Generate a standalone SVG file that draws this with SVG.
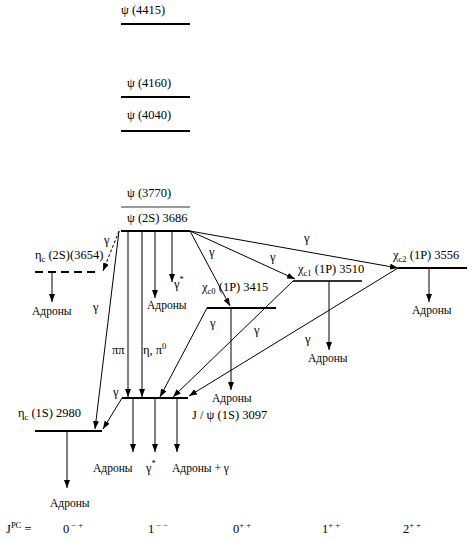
<svg xmlns="http://www.w3.org/2000/svg" width="473" height="541" viewBox="0 0 473 541" font-family="'Liberation Serif', 'Times New Roman', 'DejaVu Serif', serif">
<style>
text{font-family:'Liberation Serif','Times New Roman','DejaVu Serif',serif;font-size:12.5px;fill:#000}
.s{font-size:11.5px}
.sub{font-size:8.5px}
.lv{stroke:#000;stroke-width:2;fill:none}
.tr{stroke:#000;stroke-width:1;fill:none;marker-end:url(#ah)}
</style>
<defs>
<marker id="ah" markerUnits="userSpaceOnUse" markerWidth="8" markerHeight="6" refX="8" refY="3" orient="auto">
<path d="M0,0 L8,3 L0,6 z" fill="#000"/>
</marker>
</defs>
<rect width="473" height="541" fill="#fff"/>
<g id="psi4415"><line class="lv" x1="121" y1="24" x2="190" y2="24"/><text x="121" y="14">ψ (4415)</text></g>
<g id="psi4160"><line class="lv" x1="121" y1="97" x2="190" y2="97"/><text x="127" y="87">ψ (4160)</text></g>
<g id="psi4040"><line class="lv" x1="121" y1="131" x2="190" y2="131"/><text x="127" y="119">ψ (4040)</text></g>
<g id="psi3770"><line x1="121" y1="207" x2="190" y2="207" stroke="#777" stroke-width="1.5"/><text x="127" y="197">ψ (3770)</text></g>
<g id="psi2S"><line class="lv" x1="121" y1="231" x2="190" y2="231"/><text x="127" y="222">ψ (2S) 3686</text></g>
<g id="etac2S"><line x1="35" y1="272" x2="100" y2="272" stroke="#000" stroke-width="2" stroke-dasharray="8,5"/><text x="35" y="259">η<tspan class="sub" dy="3">c</tspan><tspan dy="-3"> (2S)(3654)</tspan></text></g>
<g id="chic0"><line class="lv" x1="207" y1="308" x2="276" y2="308"/><text x="202" y="291">χ<tspan class="sub" dy="3">c0</tspan><tspan dy="-3"> (1P) 3415</tspan></text></g>
<g id="chic1"><line x1="293" y1="281" x2="362" y2="281" stroke="#333" stroke-width="2"/><text x="298" y="273">χ<tspan class="sub" dy="3">c1</tspan><tspan dy="-3"> (1P) 3510</tspan></text></g>
<g id="chic2"><line class="lv" x1="398" y1="268" x2="467" y2="268"/><text x="393" y="259">χ<tspan class="sub" dy="3">c2</tspan><tspan dy="-3"> (1P) 3556</tspan></text></g>
<g id="jpsi"><line class="lv" x1="122" y1="398" x2="188" y2="398"/><text x="192" y="419">J / ψ (1S) 3097</text></g>
<g id="etac1S"><line class="lv" x1="35" y1="431" x2="102" y2="431"/><text x="18" y="417">η<tspan class="sub" dy="3">c</tspan><tspan dy="-3"> (1S) 2980</tspan></text></g>
<g id="connectors">
<line x1="119" y1="231" x2="103" y2="271" stroke="#000" stroke-width="1" stroke-dasharray="3,2" marker-end="url(#ah)"/>
<line class="tr" x1="119" y1="231" x2="95" y2="429"/>
<line class="tr" x1="52" y1="272" x2="52" y2="302"/>
<line class="tr" x1="128" y1="231" x2="128" y2="397"/>
<line class="tr" x1="142" y1="231" x2="142" y2="397"/>
<line class="tr" x1="155" y1="231" x2="155" y2="298"/>
<line class="tr" x1="172" y1="231" x2="172" y2="282"/>
<line class="tr" x1="190" y1="231" x2="230" y2="306"/>
<line class="tr" x1="190" y1="231" x2="295" y2="279"/>
<line class="tr" x1="190" y1="231" x2="398" y2="268"/>
<line class="tr" x1="207" y1="308" x2="160" y2="397"/>
<line class="tr" x1="293" y1="281" x2="173" y2="397"/>
<line class="tr" x1="398" y1="268" x2="189" y2="396"/>
<line class="tr" x1="122" y1="398" x2="103" y2="429"/>
<line class="tr" x1="231" y1="308" x2="231" y2="390"/>
<line class="tr" x1="329" y1="281" x2="329" y2="350"/>
<line class="tr" x1="429" y1="268" x2="429" y2="302"/>
<line class="tr" x1="133" y1="398" x2="133" y2="452"/>
<line class="tr" x1="155" y1="398" x2="155" y2="452"/>
<line class="tr" x1="177" y1="398" x2="177" y2="452"/>
<line class="tr" x1="67" y1="431" x2="67" y2="488"/>
</g>
<g id="labels">
<text x="104" y="244">γ</text>
<text x="93" y="311">γ</text>
<text x="112" y="354">ππ</text>
<text x="143" y="354">η, π<tspan class="sub" dy="-5">0</tspan></text>
<text x="113" y="396">γ</text>
<text x="174" y="288">γ<tspan class="sub" dy="-6">*</tspan></text>
<text x="209" y="256">γ</text>
<text x="270" y="261">γ</text>
<text x="304" y="242">γ</text>
<text x="210" y="327">γ</text>
<text x="254" y="334">γ</text>
<text x="305" y="343">γ</text>
<text class="s" x="32" y="315">Адроны</text>
<text class="s" x="147" y="309">Адроны</text>
<text class="s" x="212" y="402">Адроны</text>
<text class="s" x="308" y="362">Адроны</text>
<text class="s" x="412" y="314">Адроны</text>
<text class="s" x="93" y="472">Адроны</text>
<text x="146" y="472">γ<tspan class="sub" dy="-6">*</tspan></text>
<text class="s" x="172" y="472">Адроны + γ</text>
<text class="s" x="50" y="507">Адроны</text>
<text x="6" y="533">J<tspan class="sub" dy="-5">PC</tspan><tspan dy="5"> =</tspan></text>
<text x="63" y="533">0<tspan class="sub" dy="-5"> − +</tspan></text>
<text x="148" y="533">1<tspan class="sub" dy="-5"> − −</tspan></text>
<text x="233" y="533">0<tspan class="sub" dy="-5">+ +</tspan></text>
<text x="322" y="533">1<tspan class="sub" dy="-5">+ +</tspan></text>
<text x="403" y="533">2<tspan class="sub" dy="-5">+ +</tspan></text>
</g>
</svg>
